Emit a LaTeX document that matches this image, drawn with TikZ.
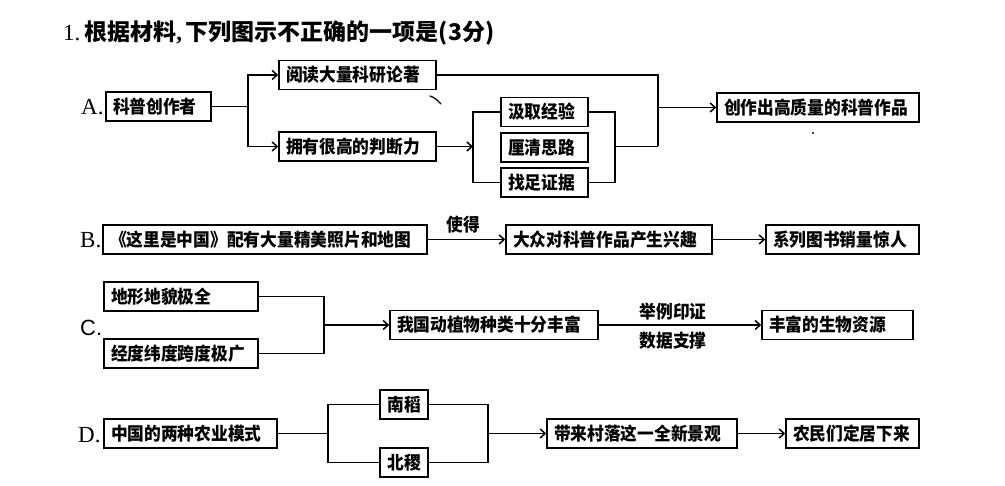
\documentclass[tikz,border=0pt]{standalone}
\usepackage{fontspec}
\newfontfamily\cjk{Noto Sans CJK SC}
\newfontfamily\cjkn{Noto Sans CJK SC}[FakeStretch=0.93]
\newfontfamily\serifL{Liberation Serif}
\newfontfamily\sansL{Liberation Sans}
\usetikzlibrary{arrows.meta}
\begin{document}
\begin{tikzpicture}[x=1pt,y=-1pt,
  lw/.style={line width=1.5pt},
  bx/.style={draw, line width=1.5pt, inner xsep=7pt, inner ysep=0pt,
    minimum height=29pt, text width=#1, align=left,
    font=\cjkn\bfseries\fontsize{18}{19}\selectfont},
  cbx/.style={bx=#1, align=center},
  arr/.style={lw, -{Straight Barb[length=5pt,width=9pt]}},
  lbl/.style={inner sep=0pt, font=\cjkn\bfseries\fontsize{18}{19}\selectfont},
  letS/.style={anchor=west, inner sep=0pt, font=\serifL\fontsize{23}{25}\selectfont},
  letC/.style={anchor=west, inner sep=0pt, font=\sansL\fontsize{22}{24}\selectfont},
  strayln/.style={line width=1.3pt, line cap=round}
]
\fill[white] (0,0) rectangle (1005,486);
\useasboundingbox (0,0) rectangle (1005,486);

% title
\node[anchor=west, inner sep=0pt, font=\fontsize{23}{25}\selectfont] (title) at (63,33)
  {{\serifL 1.}\,{\cjk\bfseries 根据材料}{\serifL\bfseries ,}\,{\cjk\bfseries 下列图示不正确的一项是(3分)}};

% ---------- A ----------
\node[letS] (la) at (81,107) {A.};
\node[bx=91pt] (a0) at (158.5,106.5) {科普创作者};
\node[bx=143pt] (a1) at (357.5,75) {阅读大量科研论著};
\node[bx=143pt] (a2) at (357.5,146.5) {拥有很高的判断力};
\node[bx=73pt] (a3) at (544.5,112) {汲取经验};
\node[bx=73pt] (a4) at (544.5,147.5) {厘清思路};
\node[bx=73pt] (a5) at (544.5,182.5) {找足证据};
\node[bx=188pt] (a6) at (818,107.5) {创作出高质量的科普作品};

\coordinate (ja) at (248,106.5);
\coordinate (jb) at (473,146.5);
\coordinate (jc) at (615,146.5);
\coordinate (jd) at (658,146.5);

\draw[lw] (a0.east) -- (ja);
\draw[arr] (ja) |- (a1.west);
\draw[arr] (ja) |- (a2.west);
\draw[arr] (a2.east) -- (jb);
\draw[lw] (a3.west) -| (jb) |- (a5.west);
\draw[lw] (a3.east) -| (jc) |- (a5.east);
\draw[lw] (jc) -- (jd);
\draw[lw] (a1.east) -| (jd);
\draw[arr] (jd |- a6.west) -- (a6.west);

% stray marks
\draw[strayln] (430,96) .. controls (435,98) .. (441,104);
\fill (813,133) circle (1.2pt);

% ---------- B ----------
\node[letS] (lb) at (80,240) {B.};
\node[bx=310pt] (b1) at (265,239.5) {《这里是中国》配有大量精美照片和地图};
\node[bx=192pt] (b2) at (609,239.5) {大众对科普作品产生兴趣};
\node[bx=139pt] (b3) at (842.5,239.5) {系列图书销量惊人};
\node[lbl] (sd) at (463,225) {使得};
\draw[arr] (b1.east) -- (b2.west);
\draw[arr] (b2.east) -- (b3.west);

% ---------- C ----------
\node[letC] (lc) at (80,328) {C.};
\node[bx=140pt] (c1) at (181,296.5) {地形地貌极全};
\node[bx=140pt] (c2) at (181,353.5) {经度纬度跨度极广};
\node[bx=194pt] (c3) at (494,325) {我国动植物种类十分丰富};
\node[bx=137pt] (c4) at (837.5,325) {丰富的生物资源};
\coordinate (jx) at (324,325);
\draw[lw] (c1.east) -| (jx);
\draw[lw] (c2.east) -| (jx);
\draw[arr] (jx) -- (c3.west);
\draw[arr] (c3.east) -- (c4.west);
\node[lbl] (ly) at (673,311.5) {举例印证};
\node[lbl] (ls) at (673,341) {数据支撑};

% ---------- D ----------
\node[letS] (ld) at (78,435) {D.};
\node[bx=159pt] (d1) at (190.5,433.5) {中国的两种农业模式};
\node[cbx=34pt] (d2) at (404,404.5) {南稻};
\node[cbx=34pt] (d3) at (404,462.5) {北稷};
\node[bx=176pt] (d4) at (642,433.5) {带来村落这一全新景观};
\node[bx=119pt] (d5) at (852.5,433.5) {农民们定居下来};
\coordinate (jl) at (328,433.5);
\coordinate (jr) at (488,433.5);
\draw[lw] (d1.east) -- (jl);
\draw[lw] (d2.west) -| (jl) |- (d3.west);
\draw[lw] (d2.east) -| (jr) |- (d3.east);
\draw[arr] (jr) -- (d4.west);
\draw[arr] (d4.east) -- (d5.west);
\end{tikzpicture}
\end{document}
